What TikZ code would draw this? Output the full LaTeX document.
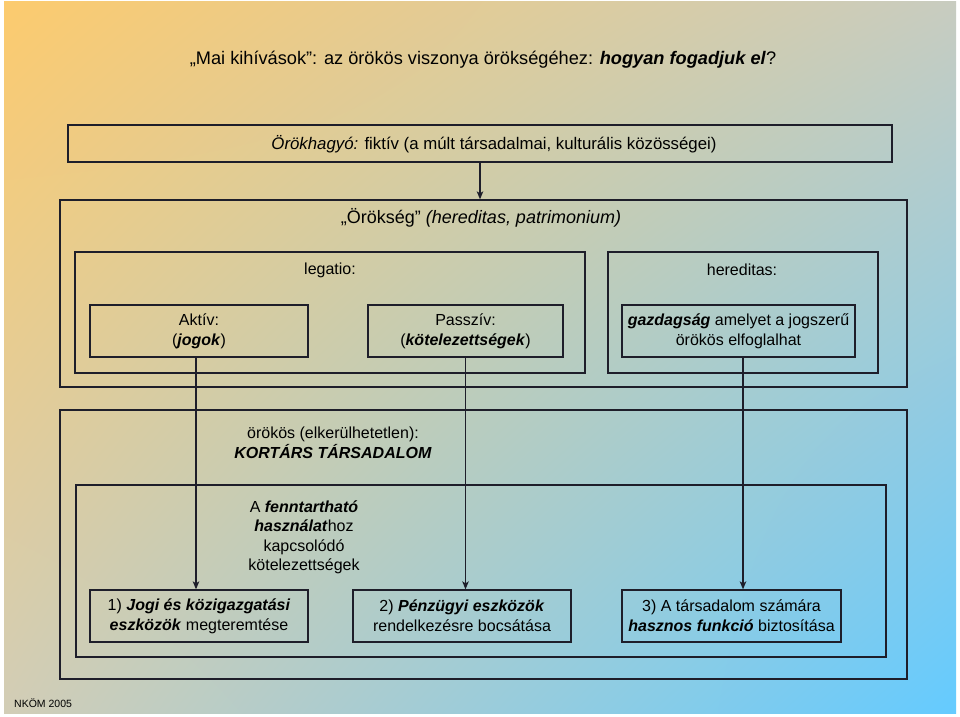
\documentclass[tikz,border=0pt]{standalone}
\usepackage{fontspec}
\setmainfont{Liberation Sans}
\usetikzlibrary{arrows.meta,calc,shadings}
\definecolor{bgTL}{HTML}{FCCB6E}
\definecolor{bgTR}{HTML}{C8CCC0}
\definecolor{bgBL}{HTML}{D2CDB6}
\definecolor{bgBR}{HTML}{64CBFF}
\definecolor{lineC}{HTML}{1E1E2A}
\tikzset{
  boxline/.style={draw=lineC, line width=1.3pt},
  frame/.style={boxline, rectangle, inner sep=0pt},
  txtbox/.style={boxline, rectangle, inner sep=0pt, align=center, font=\fontsize{16}{20}\selectfont},
  plain/.style={inner sep=0pt, align=center, font=\fontsize{16}{19.5}\selectfont},
  arr/.style={draw=lineC, line width=1.3pt, -{Stealth[length=8pt,width=6.5pt,inset=2pt]}}
}
\begin{document}
\begin{tikzpicture}[x=1pt,y=-1pt]
\useasboundingbox[fill=white] (0,0) rectangle (960,716);
\shade[upper left=bgTL, upper right=bgTR, lower left=bgBL, lower right=bgBR] (4,1) rectangle (956,713);

% title
\node[plain, font=\fontsize{18.2}{22}\selectfont] (title) at (483,60)
  {„Mai kihívások”: az örökös viszonya örökségéhez: \textbf{\textit{hogyan fogadjuk el}}?};

% top box
\node[frame, minimum width=824pt, minimum height=37pt] (hagyo) at (480,143.5) {};
\node[plain, font=\fontsize{16.8}{20}\selectfont] (hagyoT) at (494,144)
  {\textit{Örökhagyó:} fiktív (a múlt társadalmai, kulturális közösségei)};

% Örökség frame
\node[frame, minimum width=847pt, minimum height=187pt] (orokseg) at (483.5,293.5) {};
\node[plain, font=\fontsize{18}{22}\selectfont] (oroksegT) at (481,218)
  {„Örökség” \textit{(hereditas, patrimonium)}};

\node[frame, minimum width=510pt, minimum height=121pt] (legatio) at (330,312.5) {};
\node[plain] (legatioT) at (330,270) {legatio:};
\node[frame, minimum width=270pt, minimum height=121pt] (hered) at (743,312.5) {};
\node[plain] (heredT) at (742,270) {hereditas:};

\node[txtbox, minimum width=218pt, minimum height=52pt] (aktiv) at (199,331)
  {Aktív:\\(\textbf{\textit{jogok}})};
\node[txtbox, minimum width=195pt, minimum height=52pt] (passziv) at (465.5,331)
  {Passzív:\\(\textbf{\textit{kötelezettségek}})};
\node[txtbox, minimum width=233pt, minimum height=52pt] (gazd) at (738.5,331)
  {\textbf{\textit{gazdagság}} amelyet a jogszerű\\örökös elfoglalhat};

% lower frame
\node[frame, minimum width=847pt, minimum height=269pt] (lower) at (483.5,544.5) {};
\node[plain] (orokosT) at (333,443)
  {örökös (elkerülhetetlen):\\\textbf{\textit{KORTÁRS TÁRSADALOM}}};
\node[frame, minimum width=810pt, minimum height=172pt] (inner) at (481,571) {};
\node[plain] (fennT) at (304,537.5)
  {A \textbf{\textit{fenntartható}}\\\textbf{\textit{használat}}hoz\\kapcsolódó\\kötelezettségek};

\node[txtbox, minimum width=218pt, minimum height=52pt] (b1) at (199,616)
  {1) \textbf{\textit{Jogi és közigazgatási}}\\\textbf{\textit{eszközök}} megteremtése};
\node[txtbox, minimum width=218pt, minimum height=52pt] (b2) at (462,616)
  {2) \textbf{\textit{Pénzügyi eszközök}}\\rendelkezésre bocsátása};
\node[txtbox, minimum width=219pt, minimum height=52pt] (b3) at (731.5,616)
  {3) A társadalom számára\\\textbf{\textit{hasznos funkció}} biztosítása};

\node[inner sep=0pt, anchor=west, font=\fontsize{10.5}{12}\selectfont] (nkom) at (14,703) {NKÖM 2005};

% arrows
\draw[arr] (hagyo.south) -- (hagyo.south |- orokseg.north);
\draw[arr] ([xshift=-3pt]aktiv.south) -- ([xshift=-3pt]aktiv.south |- b1.north);
\draw[arr] (passziv.south) -- (passziv.south |- b2.north);
\draw[arr] ([xshift=4.5pt]gazd.south) -- ([xshift=4.5pt]gazd.south |- b3.north);
\end{tikzpicture}
\end{document}
